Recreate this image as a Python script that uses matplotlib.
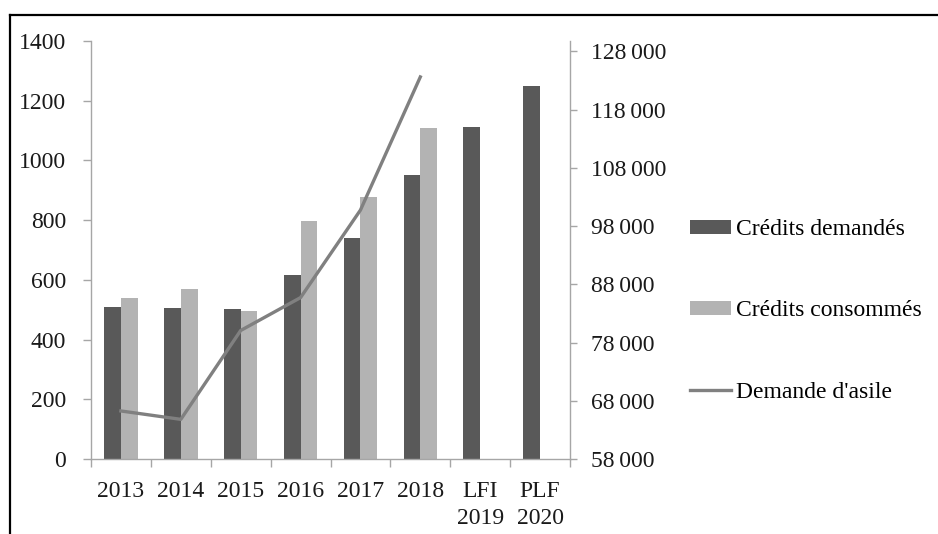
import matplotlib
matplotlib.use('Agg')
import matplotlib.pyplot as plt
import numpy as np
from matplotlib.patches import Patch
from matplotlib.lines import Line2D

# ----------------------------------------------------------------------------
# Data
# ----------------------------------------------------------------------------
categories = ['2013', '2014', '2015', '2016', '2017', '2018', 'LFI\n2019', 'PLF\n2020']
credits_demandes = [508, 505, 502, 616, 740, 950, 1112, 1250]
credits_consommes = [539, 568, 497, 797, 879, 1107, np.nan, np.nan]
demande_asile = [66251, 64811, 80075, 85726, 100755, 123625]

left_ticks = [0, 200, 400, 600, 800, 1000, 1200, 1400]
right_ticks = [58000, 68000, 78000, 88000, 98000, 108000, 118000, 128000]

# ----------------------------------------------------------------------------
# Style
# ----------------------------------------------------------------------------
plt.rcParams['font.family'] = ['Liberation Serif', 'DejaVu Serif']
dark = '#595959'
light = '#b3b3b3'
line_col = '#808080'
axis_col = '#a6a6a6'
fs = 17

fig = plt.figure(figsize=(9.38, 5.34), dpi=100)
ax = fig.add_axes([91/938, 1 - 459/534, (570 - 91)/938, (459 - 41)/534])

x = np.arange(len(categories))
w = 0.28
ax.bar(x - w/2, credits_demandes, width=w, color=dark, zorder=2)
ax.bar(x + w/2, credits_consommes, width=w, color=light, zorder=2)

ax.set_xlim(-0.5, len(categories) - 0.5)
ax.set_ylim(0, 1400)
ax.set_yticks(left_ticks)
ax.set_yticklabels([str(t) for t in left_ticks], fontsize=fs, color='#1a1a1a')

# category boundaries as major ticks, labels at centres
ax.set_xticks(np.arange(-0.5, len(categories)))
ax.set_xticklabels([])
ax.set_xticks(x, minor=True)
ax.set_xticklabels(categories, minor=True, fontsize=fs, color='#1a1a1a',
                   linespacing=1.35, va='top')
ax.tick_params(axis='x', which='minor', length=0, pad=16)
ax.tick_params(axis='x', which='major', length=6, color=axis_col, width=1)
ax.tick_params(axis='y', length=6, color=axis_col, width=1, pad=12)

for side in ['top', 'right']:
    ax.spines[side].set_visible(False)
for side in ['left', 'bottom']:
    ax.spines[side].set_color(axis_col)
    ax.spines[side].set_linewidth(1)

# secondary axis for asylum demand
ax2 = ax.twinx()
ax2.plot(x[:len(demande_asile)], demande_asile, color=line_col, linewidth=2.4, zorder=3)
ax2.set_ylim(58000, 129800)
ax2.set_yticks(right_ticks)
ax2.set_yticklabels([f'{t:,}'.replace(',', '\u2009') for t in right_ticks],
                    fontsize=fs, color='#1a1a1a')
ax2.tick_params(axis='y', length=5, color=axis_col, width=1, pad=10)
for side in ['top', 'left', 'bottom']:
    ax2.spines[side].set_visible(False)
ax2.spines['right'].set_color(axis_col)
ax2.spines['right'].set_linewidth(1)

# legend
handles = [Patch(facecolor=dark, edgecolor='none'),
           Patch(facecolor=light, edgecolor='none'),
           Line2D([0], [0], color=line_col, linewidth=2.4)]
labels = ['Crédits demandés', 'Crédits consommés', "Demande d'asile"]
fig.legend(handles, labels, loc='center left', bbox_to_anchor=(690/938, 1 - 311/534),
           frameon=False, fontsize=17, labelspacing=2.55, handlelength=1.75,
           handleheight=0.55, handletextpad=0.2, borderaxespad=0, borderpad=0)

# outer frame (top and left edges visible)
fig.add_artist(Line2D([10/938, 1], [1 - 15/534, 1 - 15/534], transform=fig.transFigure,
                      color='black', linewidth=1.6))
fig.add_artist(Line2D([10/938, 10/938], [0, 1 - 15/534], transform=fig.transFigure,
                      color='black', linewidth=1.6))

plt.savefig('out.png', dpi=100)
